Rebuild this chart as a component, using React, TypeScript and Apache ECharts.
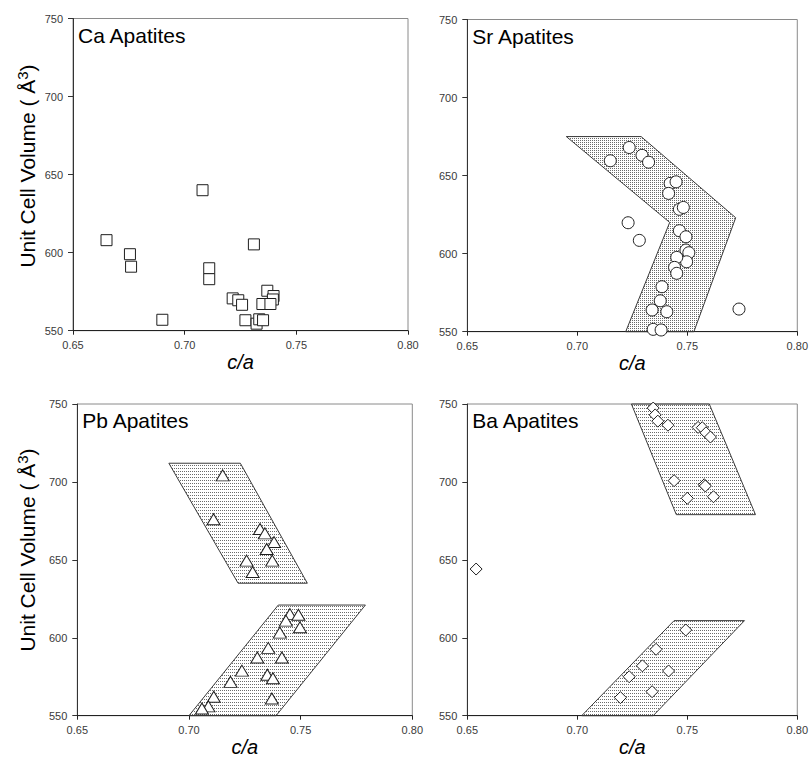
import React, { useEffect, useRef } from "react";
import * as echarts from "echarts";

type Pt = [number, number];

// Axis ranges shared by all four panels
const X_MIN = 0.65;
const X_MAX = 0.8;
const X_STEP = 0.05;
const Y_MIN = 550;
const Y_MAX = 750;
const Y_STEP = 50;

const panelTitles = ["Ca Apatites", "Sr Apatites", "Pb Apatites", "Ba Apatites"];
const xAxisTitle = "c/a";

// c/a vs unit cell volume (Å^3)
const caApatites: Pt[] = [
  [0.665, 608], [0.6755, 599], [0.676, 591], [0.69, 557], [0.708, 640],
  [0.711, 590], [0.711, 583], [0.731, 605.3], [0.7215, 570.7], [0.724, 569.5],
  [0.7257, 566.6], [0.7272, 556.7], [0.7322, 554.5], [0.7334, 557.3], [0.7351, 556.7],
  [0.737, 575.6], [0.7398, 572.2], [0.7395, 570], [0.7348, 567.1], [0.7384, 567.1],
];

const srApatites: Pt[] = [
  [0.715, 659.5], [0.7236, 668], [0.7294, 663], [0.7324, 658.6], [0.7422, 645],
  [0.7449, 646], [0.7415, 638.6], [0.7464, 628.4], [0.7482, 629.6], [0.7231, 619.8],
  [0.7282, 608.5], [0.7464, 614.7], [0.7494, 610.8], [0.7494, 602.3], [0.7507, 600.6],
  [0.7497, 594.8], [0.7452, 597.6], [0.7442, 591.2], [0.7452, 587.4], [0.7385, 578.8],
  [0.7377, 569.8], [0.734, 563.9], [0.7407, 562.8], [0.7345, 551.5], [0.7381, 551.1],
  [0.7735, 564.5],
];

const pbApatites: Pt[] = [
  [0.7151, 704.2], [0.711, 676], [0.7318, 669.8], [0.734, 667], [0.7381, 661.4],
  [0.7348, 657], [0.7258, 649.5], [0.7373, 649.5], [0.7285, 642.2],
  [0.7452, 615.2], [0.749, 614.8], [0.7434, 611], [0.7497, 606.7], [0.7407, 603.3],
  [0.7355, 593.5], [0.7306, 587.3], [0.7416, 587.3], [0.7237, 578.9], [0.7351, 576.3],
  [0.7376, 574], [0.7186, 571.7], [0.7371, 561], [0.7111, 562.2], [0.7087, 556],
  [0.7058, 554.6],
];

const baApatites: Pt[] = [
  [0.654, 644.1], [0.7345, 747.4], [0.7354, 743], [0.7366, 739], [0.7412, 736.4],
  [0.7549, 735], [0.7568, 734.8], [0.7585, 731.5], [0.7605, 728.8], [0.744, 700.8],
  [0.75, 689.5], [0.7577, 698.2], [0.7582, 697.4], [0.7619, 690.5],
  [0.7493, 605], [0.7358, 592.6], [0.7296, 582], [0.7236, 575], [0.7415, 578.7],
  [0.734, 565.4], [0.7196, 561.6],
];

// Shaded trend bands (vertices in data units)
const srBand: Pt[] = [
  [0.695, 675], [0.729, 675], [0.772, 623], [0.753, 550], [0.722, 550], [0.742, 620],
];
const pbUpperBand: Pt[] = [[0.691, 712], [0.723, 712], [0.753, 635], [0.722, 635]];
const pbLowerBand: Pt[] = [[0.74, 621], [0.779, 621], [0.739, 550], [0.7, 550]];
const baUpperBand: Pt[] = [[0.7246, 750], [0.76, 750], [0.781, 679], [0.745, 679]];
const baLowerBand: Pt[] = [[0.744, 611], [0.776, 611], [0.7345, 550], [0.702, 550]];

const FONT = '"Liberation Sans", Arial, Helvetica, sans-serif';

// Plot boxes in pixels: [left, top, width, height]
const boxes: [number, number, number, number][] = [
  [73, 18.5, 335, 312.2],
  [467.3, 19.5, 335.2, 312.2],
  [77.3, 404, 335, 311.7],
  [467.3, 404, 335.2, 311.7],
];

function dotPattern(w: number, h: number, color: string) {
  const c = document.createElement("canvas");
  c.width = w;
  c.height = h;
  const ctx = c.getContext("2d")!;
  ctx.fillStyle = color;
  ctx.fillRect(0, 0, 1, 1);
  return { image: c.toDataURL(), repeat: "repeat", imageWidth: w, imageHeight: h };
}

function bandSeries(verts: Pt[], idx: number, fill: any) {
  return {
    type: "custom",
    xAxisIndex: idx,
    yAxisIndex: idx,
    z: 1,
    silent: true,
    data: verts,
    encode: { x: 0, y: 1 },
    renderItem: (params: any, api: any) => {
      if (params.dataIndex !== 0) return null;
      const points = verts.map((v) => api.coord(v));
      return {
        type: "polygon",
        shape: { points },
        style: { fill, stroke: "#3a3a3a", lineWidth: 1 },
      };
    },
  };
}

function markerSeries(data: Pt[], idx: number, symbol: string, size: any) {
  return {
    type: "scatter",
    xAxisIndex: idx,
    yAxisIndex: idx,
    z: 2,
    silent: true,
    data,
    symbol,
    symbolSize: size,
    itemStyle: { color: "#ffffff", borderColor: "#1e1e1e", borderWidth: 1, opacity: 1 },
  };
}

export default function App() {
  const ref = useRef<HTMLDivElement>(null);

  useEffect(() => {
    if (!ref.current) return;
    const chart = echarts.init(ref.current, undefined, { renderer: "svg" });

    const fineDots = dotPattern(2, 2, "#6a6a6a");
    const dots = dotPattern(2, 3, "#6a6a6a");

    const grids = boxes.map(([left, top, width, height]) => ({
      left,
      top,
      width,
      height,
      show: true,
      borderColor: "#8a8a8a",
      borderWidth: 1,
      backgroundColor: "transparent",
    }));

    const xAxes = boxes.map((_, i) => ({
      gridIndex: i,
      type: "value",
      min: X_MIN,
      max: X_MAX,
      interval: X_STEP,
      name: xAxisTitle,
      nameLocation: "middle",
      nameGap: 18,
      nameTextStyle: { fontFamily: FONT, fontSize: 20, fontStyle: "italic", color: "#000" },
      axisLine: { show: true, onZero: false, lineStyle: { color: "#222", width: 1 } },
      axisTick: { show: true, inside: false, length: 4, lineStyle: { color: "#222" } },
      axisLabel: {
        show: true,
        margin: 9,
        fontFamily: FONT,
        fontSize: 11,
        color: "#3a3a3a",
        showMinLabel: true,
        showMaxLabel: true,
        formatter: (v: number) => v.toFixed(2),
      },
      splitLine: { show: false },
    }));

    const yAxes = boxes.map((_, i) => ({
      gridIndex: i,
      type: "value",
      min: Y_MIN,
      max: Y_MAX,
      interval: Y_STEP,
      axisLine: { show: true, onZero: false, lineStyle: { color: "#333", width: 1 } },
      axisTick: { show: true, inside: false, length: 5, lineStyle: { color: "#333" } },
      axisLabel: {
        show: true,
        margin: 10,
        fontFamily: FONT,
        fontSize: 11,
        color: "#3a3a3a",
        showMinLabel: true,
        showMaxLabel: true,
      },
      splitLine: { show: false },
    }));

    const titleText = panelTitles.map((t, i) => ({
      type: "text",
      x: boxes[i][0] + 5,
      y: boxes[i][1] + 16.5,
      style: {
        text: t,
        fontFamily: FONT,
        fontSize: 21,
        fill: "#000",
        align: "left",
        verticalAlign: "middle",
      },
      z: 10,
    }));

    const yName = (cy: number) => ({
      type: "text",
      x: 27,
      y: cy,
      rotation: Math.PI / 2,
      style: {
        text: "{a|Unit Cell Volume ( Å}{s|3}{a|)}",
        align: "center",
        verticalAlign: "middle",
        fill: "#000",
        rich: {
          a: { fontFamily: FONT, fontSize: 21, lineHeight: 25, fill: "#000" },
          s: { fontFamily: FONT, fontSize: 15, lineHeight: 15, verticalAlign: "top", fill: "#000" },
        },
      },
      z: 10,
    });

    chart.setOption({
      animation: false,
      backgroundColor: "#ffffff",
      grid: grids,
      xAxis: xAxes,
      yAxis: yAxes,
      graphic: [...titleText, yName(166), yName(550)],
      series: [
        bandSeries(srBand, 1, fineDots),
        bandSeries(pbUpperBand, 2, dots),
        bandSeries(pbLowerBand, 2, dots),
        bandSeries(baUpperBand, 3, dots),
        bandSeries(baLowerBand, 3, dots),
        markerSeries(caApatites, 0, "rect", 11),
        markerSeries(srApatites, 1, "circle", 12),
        markerSeries(pbApatites, 2, "triangle", [13, 11]),
        markerSeries(baApatites, 3, "diamond", 12),
      ],
    });

    return () => chart.dispose();
  }, []);

  return (
    <div
      ref={ref}
      style={{ position: "absolute", left: 0, top: 0, width: 811, height: 760 }}
    />
  );
}
